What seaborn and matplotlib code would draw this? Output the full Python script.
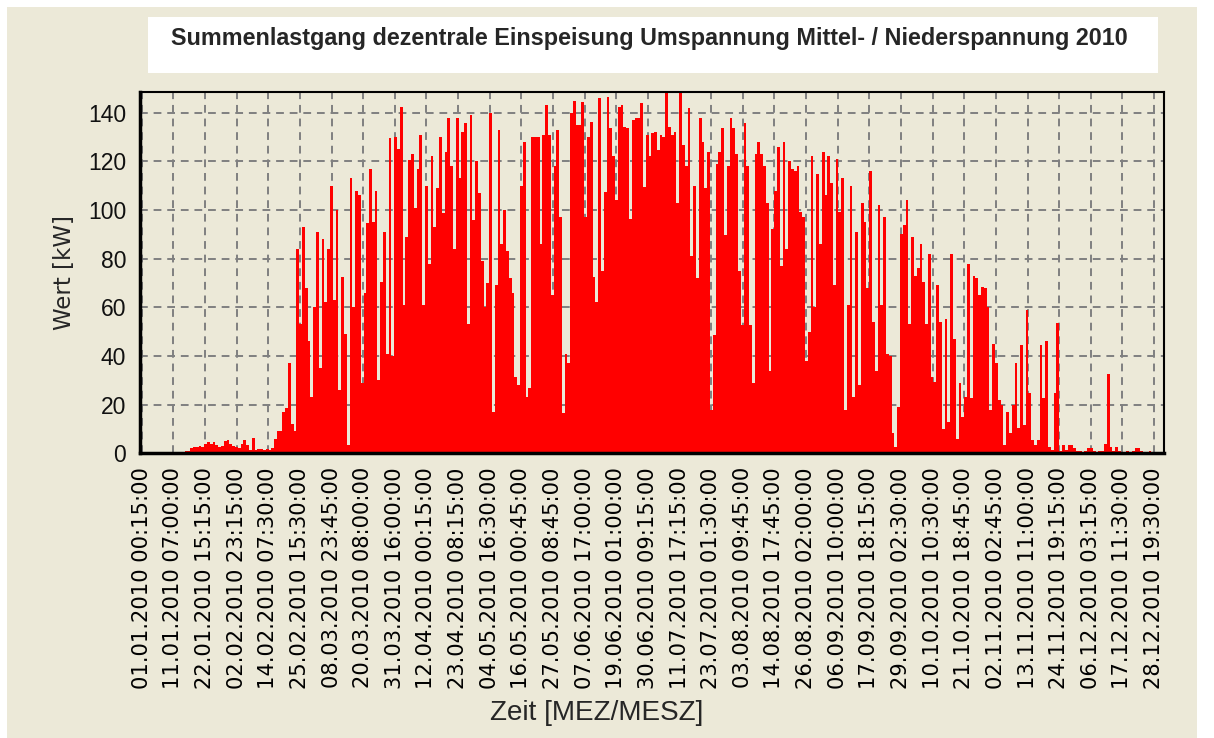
import numpy as np
import pandas as pd
import matplotlib
matplotlib.use("Agg")
import matplotlib.pyplot as plt
from matplotlib.patches import Rectangle
from matplotlib.ticker import FixedLocator, MultipleLocator
from matplotlib import font_manager
import seaborn as sns

# Tagesspitzen der Einspeisung [kW]
tage_01_34 = [0.6, 0.6, 0.5, 0.6, 0.7, 0.6, 0.5, 0.6, 0.6, 0.7, 0.6, 0.5, 0.6, 0.6, 0.7, 0.6, 0.8, 1.0,
              2.0, 2.5, 2.5, 3.0, 2.5, 4.0, 4.5, 4.0, 4.5, 3.5, 2.5, 3.0, 5.0, 5.5, 4.0, 3.0]
tage_35_72 = [2.7, 2.0, 4.0, 5.5, 3.4, 1.4, 6.4, 1.4, 1.8, 1.8, 1.4, 1.8, 1.4, 2.0, 6.0, 9.0, 9.0, 17, 18.5, 37,
              12, 9, 84, 53, 93, 68, 46, 23, 60, 91, 35, 88, 62, 84, 110, 63, 100, 26]
tage_73_109 = [72.6, 49, 3.4, 113, 60, 108, 106, 29, 66, 94.5, 117, 95, 108, 30, 70.5, 91, 41, 129.5, 40, 130,
               125, 142.5, 61, 89, 120.5, 123, 101, 117, 131, 61, 110, 78, 122, 93, 109, 130, 98.6]
tage_110_147 = [124, 138, 118, 84, 138, 113, 132, 135.6, 53, 139, 96, 120, 107, 79, 60, 70, 140, 17, 69, 133,
                86, 100, 83, 72, 66, 31.5, 28, 110, 128, 23, 27, 130, 130, 130, 86, 131, 143, 131]
tage_148_185 = [65, 118, 133, 97, 16.4, 41, 37, 140, 145, 135, 135, 144.5, 97, 130, 136, 72.6, 62, 146, 75, 107.5,
                146.6, 133.5, 122, 104, 142.5, 143, 134, 133.5, 96.5, 137, 138, 137.7, 143.8, 109.6, 131, 122, 131.5, 132]
tage_186_222 = [124.7, 131, 130, 148, 134, 131, 132, 103, 148, 126.7, 118, 141.8, 81, 110, 72, 137.7, 128, 109, 124, 17.8,
                48.6, 119, 124, 133.5, 89.7, 118, 138, 133.5, 123, 75, 52.7, 135.6, 118, 52.7, 28.8, 123, 128]
tage_223_260 = [123, 118, 103, 34, 92, 108, 126, 77, 128, 84, 120, 117, 116, 118, 99, 97, 38, 50, 122, 60,
                115, 86, 124, 106, 122, 111, 69, 121, 99, 113, 18, 61, 110, 23, 91, 28, 103, 95]
tage_261_297 = [68, 116, 54, 34, 102, 61, 97, 41, 40, 8.2, 2.7, 19, 90, 94, 104, 53, 89, 73, 76, 86,
                70.5, 53, 82, 31.5, 29.5, 69, 54, 10, 55, 13, 82, 47, 6, 29, 15, 23, 78]
tage_298_333 = [22.6, 73, 72, 65, 68.5, 67.8, 60, 17.8, 45, 37, 21.9, 19.9, 3.4, 17, 8.2, 19.9, 37, 10.3, 44.5, 11.6,
                59, 24.7, 5.5, 3.4, 5.5, 44.5, 22.6, 46, 2.7, 1.4, 24.7, 53.4, 1.0, 3.4, 1.4, 3.4]
tage_334_365 = [3.4, 2.0, 0.8, 0.8, 0.7, 0.8, 2.0, 2.0, 0.8, 0.7, 0.8, 0.8, 3.7, 32.5, 2.7, 0.8, 2.7, 0.8, 0.7, 0.7,
                0.8, 0.7, 0.8, 2.0, 2.0, 0.8, 0.7, 0.7, 0.8, 0.7, 0.7, 0.7]

zeit_labels = ["01.01.2010 00:15:00", "11.01.2010 07:00:00", "22.01.2010 15:15:00", "02.02.2010 23:15:00",
               "14.02.2010 07:30:00", "25.02.2010 15:30:00", "08.03.2010 23:45:00", "20.03.2010 08:00:00",
               "31.03.2010 16:00:00", "12.04.2010 00:15:00", "23.04.2010 08:15:00", "04.05.2010 16:30:00",
               "16.05.2010 00:45:00", "27.05.2010 08:45:00", "07.06.2010 17:00:00", "19.06.2010 01:00:00",
               "30.06.2010 09:15:00", "11.07.2010 17:15:00", "23.07.2010 01:30:00", "03.08.2010 09:45:00",
               "14.08.2010 17:45:00", "26.08.2010 02:00:00", "06.09.2010 10:00:00", "17.09.2010 18:15:00",
               "29.09.2010 02:30:00", "10.10.2010 10:30:00", "21.10.2010 18:45:00", "02.11.2010 02:45:00",
               "13.11.2010 11:00:00", "24.11.2010 19:15:00", "06.12.2010 03:15:00", "17.12.2010 11:30:00",
               "28.12.2010 19:30:00"]
wert_ticks = [0, 20, 40, 60, 80, 100, 120, 140]

werte = (tage_01_34 + tage_35_72 + tage_73_109 + tage_110_147 + tage_148_185 +
         tage_186_222 + tage_223_260 + tage_261_297 + tage_298_333 + tage_334_365)
df = pd.DataFrame({"tag": np.arange(len(werte)) + 0.5, "wert": werte})

sns.set_style("white")
names = {f.name for f in font_manager.fontManager.ttflist}
narrow = "Liberation Sans Narrow" if "Liberation Sans Narrow" in names else "Liberation Sans"
plt.rcParams["font.family"] = ["DejaVu Sans"]

BG = "#ECE9D8"
W, H = 1214, 738
fig = plt.figure(figsize=(W / 100, H / 100), dpi=100)
fig.patch.set_facecolor("white")
fig.add_artist(Rectangle((7 / W, 0), 1190 / W, 1 - 7 / H, transform=fig.transFigure,
                         facecolor=BG, edgecolor="none", zorder=0))
# Titelkasten
fig.add_artist(Rectangle((148 / W, 1 - 73 / H), 1010 / W, 56 / H, transform=fig.transFigure,
                         facecolor="white", edgecolor="none", zorder=1))

ax = fig.add_axes([140 / W, 1 - 453.3 / H, 1024 / W, 361.3 / H])
ax.set_facecolor(BG)

sns.barplot(data=df, x="tag", y="wert", native_scale=True, width=1, color="#FF0000",
            saturation=1, linewidth=0, errorbar=None, antialiased=False, ax=ax)

ax.set_xlim(0, 366.5)
ax.set_ylim(0, 148.5)
ax.set_axisbelow(True)
ax.grid(True, color="#808080", linestyle=(0, (4, 3)), linewidth=1.4)

tick_pos = 0.6 + 11.324 * np.arange(len(zeit_labels))
ax.xaxis.set_major_locator(FixedLocator(tick_pos))
ax.xaxis.set_minor_locator(FixedLocator(np.arange(0.6, 366.5, 11.324 / 5)))
ax.set_xticklabels(zeit_labels, rotation=90, fontsize=15, color="black")
ax.set_yticks(wert_ticks)
ax.yaxis.set_minor_locator(MultipleLocator(5))
ax.set_yticklabels([str(v) for v in wert_ticks], fontsize=16.5, family=[narrow, "DejaVu Sans"], color="#111111")
ax.tick_params(axis="both", which="major", length=7, width=1.2, color="black", direction="out", pad=3)
ax.tick_params(axis="both", which="minor", length=3, width=1.0, color="black", direction="out")
ax.set_xlabel("")
ax.set_ylabel("")

for side in ["top", "right"]:
    ax.spines[side].set_linewidth(1.5)
for side in ["left", "bottom"]:
    ax.spines[side].set_linewidth(2.5)
for s in ax.spines.values():
    s.set_color("black")

title = fig.text(649 / W, 1 - 38 / H, "Summenlastgang dezentrale Einspeisung Umspannung Mittel- / Niederspannung 2010",
                 ha="center", va="center", fontsize=17, fontweight="bold", family=[narrow, "DejaVu Sans"], zorder=2)
ylab = fig.text(65 / W, 1 - 272 / H, "Wert [kW]", rotation=90, ha="center", va="center", fontsize=15)
xlab = fig.text(597 / W, 1 - 713 / H, "Zeit [MEZ/MESZ]", ha="center", va="center", fontsize=15,
                family=[narrow, "DejaVu Sans"])

# Schriftgroessen an die Textlaengen der Vorlage anpassen
fig.canvas.draw()
r = fig.canvas.get_renderer()
for t, target, dim in [(title, 958, "w"), (ylab, 115, "h"), (xlab, 215, "w")]:
    bb = t.get_window_extent(r)
    size = bb.width if dim == "w" else bb.height
    t.set_fontsize(t.get_fontsize() * target / size)
lab0 = ax.get_xticklabels()[0]
bb = lab0.get_window_extent(r)
for lab in ax.get_xticklabels():
    lab.set_fontsize(15 * 221 / bb.height)

fig.savefig("out.png", dpi=100)
